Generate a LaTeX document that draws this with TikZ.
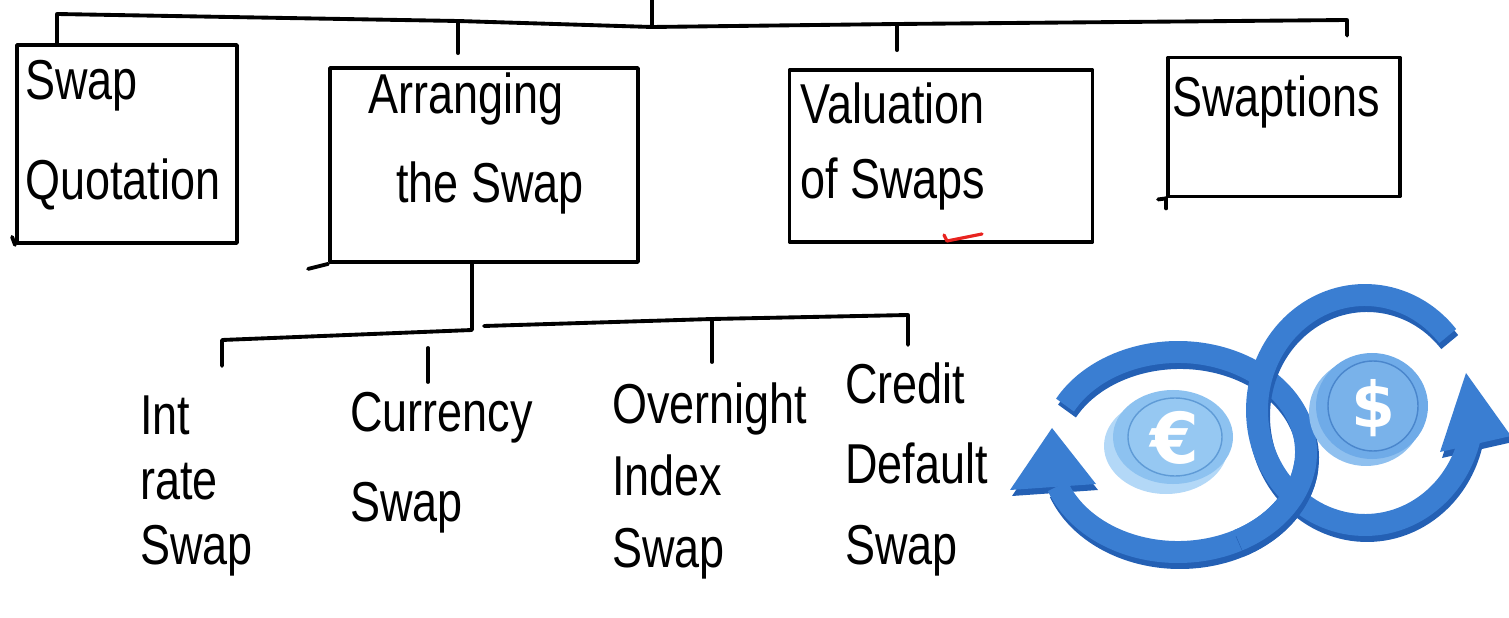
\documentclass[tikz,border=0pt]{standalone}
\usepackage{fontspec}
\usetikzlibrary{calc}
\newfontfamily\handfont[FakeStretch=0.8]{Liberation Sans}
\newfontfamily\coinfont{DejaVu Sans}
\definecolor{ringface}{HTML}{3A7ED2}
\definecolor{ringside}{HTML}{2460B4}
\definecolor{coinrim}{HTML}{B3D8F7}
\definecolor{coinface}{HTML}{8DC2F0}
\definecolor{coininner}{HTML}{96C8F2}
\definecolor{coinline}{HTML}{5F9BD6}
\definecolor{usdrim}{HTML}{8FC0EF}
\definecolor{usdface}{HTML}{6FABE8}
\definecolor{usdinner}{HTML}{79B2EA}
\definecolor{usdline}{HTML}{4A86CC}
\definecolor{tickred}{HTML}{E8231F}
\begin{document}
\begin{tikzpicture}[x=0.02cm,y=-0.02cm,
  pen/.style={line width=2.2pt, line cap=round, line join=round},
  topic/.style={pen, draw, inner sep=0pt},
  hand/.style={font=\handfont\fontsize{32}{#1}\selectfont, align=left,
    anchor=north west, inner sep=0pt},
  ring/.style={line width=12.5pt, line cap=butt},
  coinsym/.style={font=\coinfont\bfseries\fontsize{#1}{#1}\selectfont, text=white}]
\useasboundingbox (0,0) rectangle (1509,618);

% ---- top level boxes
\node[topic, minimum width=4.4cm, minimum height=3.96cm] (q) at (127,144) {};
\node[topic, minimum width=6.16cm, minimum height=3.88cm] (a) at (484,165) {};
\node[topic, minimum width=6.06cm, minimum height=3.44cm] (v) at (941,156) {};
\node[topic, minimum width=4.64cm, minimum height=2.78cm] (s) at (1284,127) {};

\node[hand=57pt] (qt) at (25,60) {Swap\\Quotation};
\node[hand=51pt] (at) at (368,72) {Arranging\\\hspace{0.5em}the Swap};
\node[hand=43pt] (vt) at (800,82) {Valuation\\of Swaps};
\node[hand=40pt] (st) at (1172,75) {Swaptions};

% stray strokes of the box outlines
\draw[pen] (a.south west) -- ($(a.south west)+(-20,5)$);
\draw[pen] (s.south west) -- ($(s.south west)+(-8,1)$);
\draw[pen] (s.south west) -- ($(s.south west)+(0,10)$);
\draw[pen] (q.south west) -- ($(q.south west)+(-3,-8)$);

% ---- upper tree
\coordinate (root) at (652,0);
\coordinate (hub) at (652,27);
\coordinate (bq) at (57,14);
\coordinate (ba) at (458,21);
\coordinate (bv) at (897,24);
\coordinate (bs) at (1347,20);
\draw[pen] (root) -- (hub);
\draw[pen] (q.north -| bq) -- (bq) -- (ba) -- (hub) -- (bv) -- (bs)
  -- ($(s.north -| bs)+(0,-20)$);
\draw[pen] (ba) -- ($(a.north -| ba)+(0,-13)$);
\draw[pen] (bv) -- ($(v.north -| bv)+(0,-18)$);

% ---- leaves
\node[hand=37pt] (i) at (140,395) {Int\\rate\\Swap};
\node[hand=51pt] (c) at (350,392) {Currency\\Swap};
\node[hand=41pt] (o) at (612,382) {Overnight\\Index\\Swap};
\node[hand=46pt] (d) at (845,362) {Credit\\Default\\Swap};

% ---- lower tree
\coordinate (la) at (472,330);
\coordinate (li) at (222,340);
\coordinate (ie) at (222,366);
\coordinate (ra) at (484,326);
\coordinate (ro) at (712,319);
\coordinate (oe) at (712,362);
\coordinate (rd) at (908,315);
\coordinate (de) at (908,345);
\coordinate (ct) at (428,348);
\coordinate (ce) at (428,382);
\draw[pen] (a.south -| la) -- (la) -- (li) -- (ie);
\draw[pen] (ra) -- (ro) -- (rd) -- (de);
\draw[pen] (ro) -- (oe);
\draw[pen] (ct) -- (ce);

% ---- check mark
\coordinate (k1) at (944,235);
\coordinate (k2) at (947,241);
\coordinate (k3) at (982,234);
\draw[tickred, line width=1.8pt, line cap=round, line join=round] (k1) -- (k2) -- (k3);

% ---- swap icon: two linked arrow rings (y pointing up inside)
\begin{scope}[shift={(0,618)}, y=0.02cm]
  % left ring, side then face
  \foreach \col/\dx/\dy in {ringside/2/-6, ringface/0/0} {
    \begin{scope}[shift={(\dx,\dy)}]
      \draw[ring, draw=\col]
        ($(1178,166)+(152:128 and 100)$) arc[start angle=152, end angle=-160, x radius=128, y radius=100];
      \fill[\col] (1052,190) -- (1010,128) -- (1096,134) -- cycle;
    \end{scope}
  }
  % right ring
  \foreach \col/\dx/\dy in {ringside/2/-6, ringface/0/0} {
    \begin{scope}[shift={(\dx,\dy)}]
      \draw[ring, draw=\col]
        ($(1365,208)+(40:108 and 115)$) arc[start angle=40, end angle=345, x radius=108, y radius=115];
      \fill[\col] (1466,245) -- (1440,166) -- (1511,182) -- cycle;
    \end{scope}
  }
  % left ring passes in front at the lower crossing
  \foreach \col/\dx/\dy in {ringside/2/-6, ringface/0/0} {
    \draw[ring, draw=\col, shift={(\dx,\dy)}]
      ($(1178,166)+(-6:128 and 100)$) arc[start angle=-6, end angle=-62, x radius=128, y radius=100];
  }
\end{scope}

% coins
\fill[coinrim] (1166,446) ellipse[x radius=62, y radius=48];
\fill[coinface] (1173,437) ellipse[x radius=60, y radius=47];
\draw[coinline, fill=coininner, line width=0.8pt] (1175,437) ellipse[x radius=47, y radius=39];
\node[coinsym=40pt] (eur) at (1175,438) {€};

\fill[usdrim] (1366,412) ellipse[x radius=57, y radius=54];
\fill[usdface] (1372,406) ellipse[x radius=56, y radius=53];
\draw[usdline, fill=usdinner, line width=0.8pt] (1373,406) ellipse[x radius=45, y radius=45];
\node[coinsym=36pt] (usd) at (1373,408) {\$};
\end{tikzpicture}
\end{document}
